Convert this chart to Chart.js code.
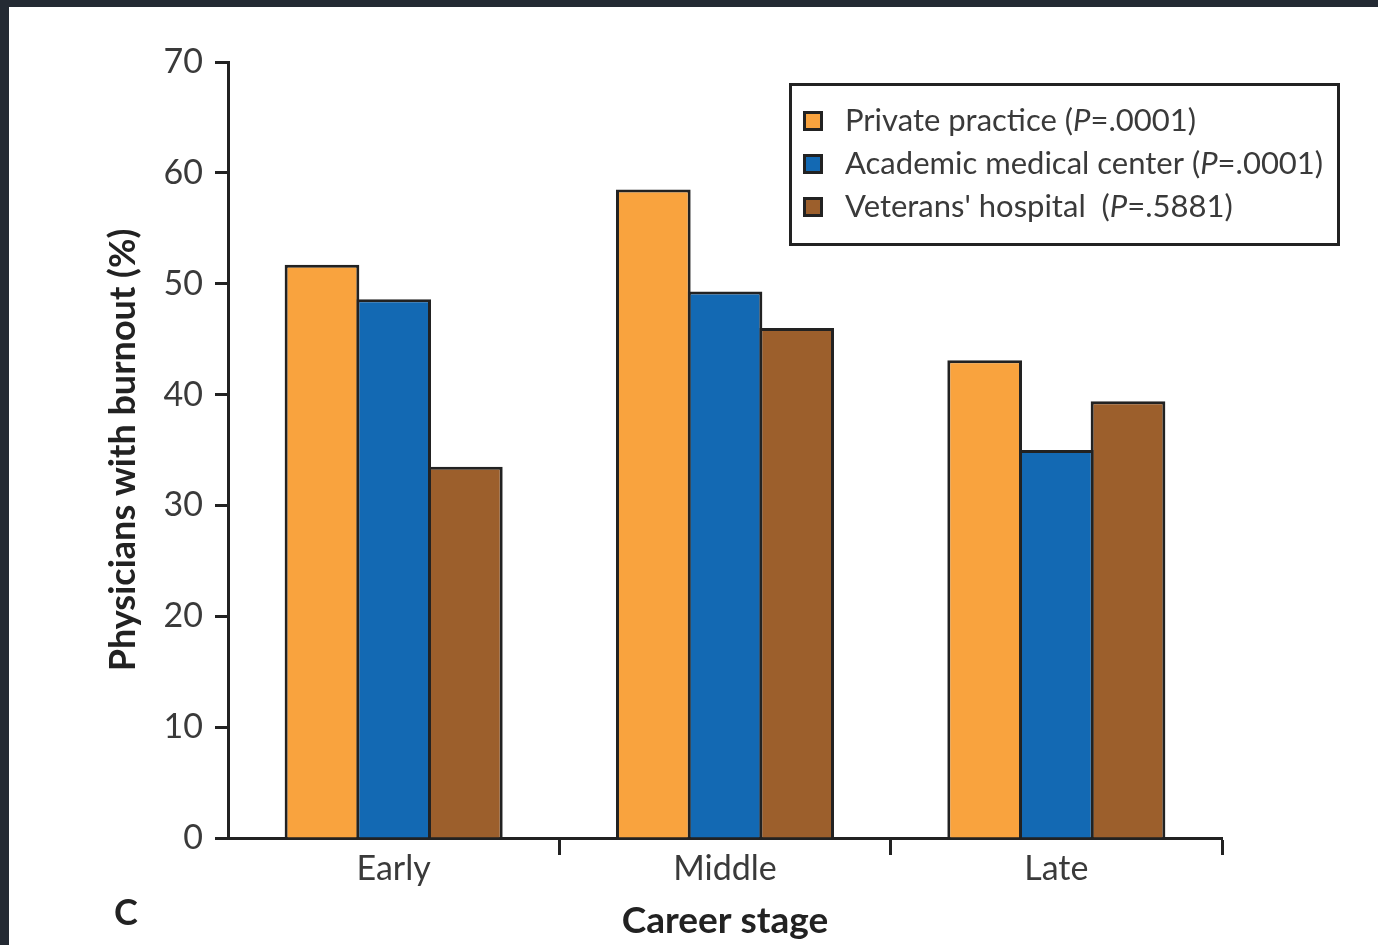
<!DOCTYPE html>
<html>
<head>
<meta charset="utf-8">
<script src="https://cdn.jsdelivr.net/npm/chart.js@4.4.1/dist/chart.umd.min.js"></script>
<style>
  html, body { margin: 0; padding: 0; background: #fff; }
  #wrap { width: 1378px; height: 945px; }
</style>
</head>
<body>
<div id="wrap"><canvas id="burnoutChart" width="1378" height="945"></canvas></div>
<script>
// Data
const stages = ['Early', 'Middle', 'Late'];
const privatePractice = [51.7, 58.5, 43.1];
const academicCenter = [48.6, 49.3, 35.0];
const veteransHospital = [33.5, 46.0, 39.4];
const seriesNames = ['Private practice', 'Academic medical center', "Veterans' hospital "];
const pValues = ['.0001', '.0001', '.5881'];
const yMin = 0, yMax = 70, yStep = 10;

const colors = ['#F9A33E', '#1369B3', '#9C5F2C'];
const ink = '#222222';
const textGray = '#3a3a3a';
const fontFamily = 'Lato, "Open Sans", sans-serif';

// Page frame: white page with dark strip on top and left
const frame = {
  id: 'frame',
  beforeDraw(chart) {
    const {ctx, width, height} = chart;
    ctx.save();
    ctx.fillStyle = '#ffffff';
    ctx.fillRect(0, 0, width, height);
    ctx.fillStyle = '#242a33';
    ctx.fillRect(0, 0, width, 7);
    ctx.fillRect(0, 0, 9, height);
    ctx.restore();
  }
};

// Boxed legend with italic P, plus panel letter
const boxedLegend = {
  id: 'boxedLegend',
  afterDraw(chart) {
    const {ctx} = chart;
    ctx.save();
    // legend frame
    ctx.strokeStyle = ink;
    ctx.lineWidth = 3;
    ctx.strokeRect(790.5, 84.5, 548, 160);

    const rowY = [121, 164, 207];
    chart.data.datasets.forEach((ds, i) => {
      const y = rowY[i];
      ctx.fillStyle = ink;
      ctx.fillRect(803, y - 10, 20, 20);
      ctx.fillStyle = ds.backgroundColor;
      ctx.fillRect(806, y - 7, 14, 14);

      ctx.textBaseline = 'middle';
      ctx.textAlign = 'left';
      ctx.fillStyle = textGray;
      let x = 845;
      ctx.font = '31px ' + fontFamily;
      const head = ds.label + ' (';
      ctx.fillText(head, x, y);
      x += ctx.measureText(head).width;
      ctx.font = 'italic 31px ' + fontFamily;
      ctx.fillText('P', x, y);
      x += ctx.measureText('P').width;
      ctx.font = '31px ' + fontFamily;
      ctx.fillText('=' + pValues[i] + ')', x, y);
    });

    // panel letter
    ctx.fillStyle = ink;
    ctx.font = 'bold 36px ' + fontFamily;
    ctx.textAlign = 'center';
    ctx.textBaseline = 'middle';
    ctx.fillText('C', 126, 913);
    ctx.restore();
  }
};

const ctx = document.getElementById('burnoutChart').getContext('2d');
const burnoutChart = new Chart(ctx, {
  type: 'bar',
  data: {
    labels: stages,
    datasets: [privatePractice, academicCenter, veteransHospital].map((vals, i) => ({
      label: seriesNames[i],
      data: vals,
      backgroundColor: colors[i],
      borderColor: ink,
      borderWidth: 3,
      barPercentage: 1.042,
      categoryPercentage: 0.649
    }))
  },
  options: {
    responsive: false,
    animation: false,
    devicePixelRatio: 1,
    layout: {padding: {left: 0, top: 62, right: 156, bottom: 0}},
    plugins: {
      legend: {display: false},
      tooltip: {enabled: false}
    },
    scales: {
      x: {
        z: 1,
        afterFit(scale) { scale.height = 107; },
        grid: {
          offset: true,
          drawOnChartArea: false,
          drawTicks: true,
          tickLength: 17,
          tickWidth: 3,
          tickColor: (c) => c.index === 0 ? 'rgba(0,0,0,0)' : ink
        },
        border: {color: ink, width: 3},
        ticks: {
          color: textGray,
          padding: -6,
          font: {family: fontFamily, size: 34}
        },
        title: {
          display: true,
          text: 'Career stage',
          color: ink,
          font: {family: fontFamily, size: 37, weight: 'bold'},
          padding: {top: 0, bottom: 2}
        }
      },
      y: {
        z: 1,
        min: yMin,
        max: yMax,
        afterFit(scale) { scale.width = 228; },
        grid: {
          drawOnChartArea: false,
          drawTicks: true,
          tickLength: 13,
          tickWidth: 3,
          tickColor: ink
        },
        border: {color: ink, width: 3},
        ticks: {
          stepSize: yStep,
          color: textGray,
          padding: 12,
          font: {family: fontFamily, size: 34}
        },
        title: {
          display: true,
          text: 'Physicians with burnout (%)',
          color: ink,
          font: {family: fontFamily, size: 36, weight: 'bold'},
          padding: {top: 102, bottom: 0}
        }
      }
    }
  },
  plugins: [frame, boxedLegend]
});
</script>
</body>
</html>
